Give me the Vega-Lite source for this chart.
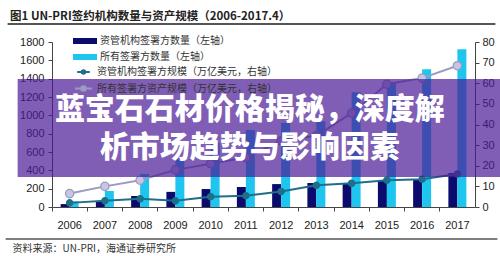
{
  "$schema": "https://vega.github.io/schema/vega-lite/v6.json",
  "width": 423,
  "height": 165,
  "autosize": {"type": "none"},
  "padding": {"left": 52, "top": 42, "right": 25, "bottom": 49},
  "background": "#ffffff",
  "config": {
    "view": {"stroke": null},
    "font": "Liberation Sans",
    "axis": {"labelFont": "Liberation Sans", "labelFontSize": 11, "labelColor": "#222", "domainColor": "#444", "tickColor": "#444", "grid": false}
  },
  "title": {
    "text": "图1 UN-PRI签约机构数量与资产规模（2006-2017.4）",
    "anchor": "start",
    "frame": "group",
    "dx": -42,
    "dy": 9,
    "offset": 10,
    "font": "Noto Sans CJK SC",
    "fontSize": 11.5,
    "fontWeight": "bold",
    "color": "#222"
  },
  "datasets": {
    "bars": [
      {"year": "2006", "series": "资管机构签署方数量（左轴）", "value": 32},
      {"year": "2007", "series": "资管机构签署方数量（左轴）", "value": 65},
      {"year": "2008", "series": "资管机构签署方数量（左轴）", "value": 120},
      {"year": "2009", "series": "资管机构签署方数量（左轴）", "value": 165},
      {"year": "2010", "series": "资管机构签署方数量（左轴）", "value": 196},
      {"year": "2011", "series": "资管机构签署方数量（左轴）", "value": 218},
      {"year": "2012", "series": "资管机构签署方数量（左轴）", "value": 250},
      {"year": "2013", "series": "资管机构签署方数量（左轴）", "value": 262},
      {"year": "2014", "series": "资管机构签署方数量（左轴）", "value": 262},
      {"year": "2015", "series": "资管机构签署方数量（左轴）", "value": 294},
      {"year": "2016", "series": "资管机构签署方数量（左轴）", "value": 305},
      {"year": "2017", "series": "资管机构签署方数量（左轴）", "value": 370},
      {"year": "2006", "series": "所有签署方数量（左轴）", "value": 63},
      {"year": "2007", "series": "所有签署方数量（左轴）", "value": 175},
      {"year": "2008", "series": "所有签署方数量（左轴）", "value": 360},
      {"year": "2009", "series": "所有签署方数量（左轴）", "value": 520},
      {"year": "2010", "series": "所有签署方数量（左轴）", "value": 700},
      {"year": "2011", "series": "所有签署方数量（左轴）", "value": 840},
      {"year": "2012", "series": "所有签署方数量（左轴）", "value": 918},
      {"year": "2013", "series": "所有签署方数量（左轴）", "value": 935},
      {"year": "2014", "series": "所有签署方数量（左轴）", "value": 1253},
      {"year": "2015", "series": "所有签署方数量（左轴）", "value": 1365},
      {"year": "2016", "series": "所有签署方数量（左轴）", "value": 1503},
      {"year": "2017", "series": "所有签署方数量（左轴）", "value": 1722}
    ],
    "lines": [
      {"year": "2006", "series": "资管机构签署方规模（万亿美元，右轴）", "value": 2},
      {"year": "2007", "series": "资管机构签署方规模（万亿美元，右轴）", "value": 3},
      {"year": "2008", "series": "资管机构签署方规模（万亿美元，右轴）", "value": 4},
      {"year": "2009", "series": "资管机构签署方规模（万亿美元，右轴）", "value": 3},
      {"year": "2010", "series": "资管机构签署方规模（万亿美元，右轴）", "value": 5},
      {"year": "2011", "series": "资管机构签署方规模（万亿美元，右轴）", "value": 5.5},
      {"year": "2012", "series": "资管机构签署方规模（万亿美元，右轴）", "value": 7.5},
      {"year": "2013", "series": "资管机构签署方规模（万亿美元，右轴）", "value": 10.5},
      {"year": "2014", "series": "资管机构签署方规模（万亿美元，右轴）", "value": 11.5},
      {"year": "2015", "series": "资管机构签署方规模（万亿美元，右轴）", "value": 13},
      {"year": "2016", "series": "资管机构签署方规模（万亿美元，右轴）", "value": 13.5},
      {"year": "2017", "series": "资管机构签署方规模（万亿美元，右轴）", "value": 16},
      {"year": "2006", "series": "所有签署方资产规模（万亿美元，右轴）", "value": 6.5},
      {"year": "2007", "series": "所有签署方资产规模（万亿美元，右轴）", "value": 10},
      {"year": "2008", "series": "所有签署方资产规模（万亿美元，右轴）", "value": 13},
      {"year": "2009", "series": "所有签署方资产规模（万亿美元，右轴）", "value": 18},
      {"year": "2010", "series": "所有签署方资产规模（万亿美元，右轴）", "value": 21},
      {"year": "2011", "series": "所有签署方资产规模（万亿美元，右轴）", "value": 24},
      {"year": "2012", "series": "所有签署方资产规模（万亿美元，右轴）", "value": 32},
      {"year": "2013", "series": "所有签署方资产规模（万亿美元，右轴）", "value": 34.5},
      {"year": "2014", "series": "所有签署方资产规模（万亿美元，右轴）", "value": 45.5},
      {"year": "2015", "series": "所有签署方资产规模（万亿美元，右轴）", "value": 59.5},
      {"year": "2016", "series": "所有签署方资产规模（万亿美元，右轴）", "value": 62.5},
      {"year": "2017", "series": "所有签署方资产规模（万亿美元，右轴）", "value": 68.5}
    ],
    "overlay": [
      {"line1": "蓝宝石石材价格揭秘，深度解", "line2": "析市场趋势与影响因素"}
    ]
  },
  "layer": [
    {
      "data": {"name": "bars"},
      "mark": {"type": "bar"},
      "encoding": {
        "x": {
          "field": "year", "type": "ordinal",
          "scale": {"domain": ["2006", "2007", "2008", "2009", "2010", "2011", "2012", "2013", "2014", "2015", "2016", "2017"], "paddingInner": 0, "paddingOuter": 0},
          "title": "资料来源：UN-PRI，海通证券研究所",
          "axis": {
            "labelAngle": 0, "bandPosition": 0, "tickSize": 4, "labelPadding": 8, "labelFontSize": 11,
            "titleAnchor": "start", "titleAlign": "left", "titleBaseline": "middle", "titleX": -40, "titleY": 41,
            "titleFont": "Noto Sans CJK SC", "titleFontSize": 10, "titleFontWeight": "normal", "titleColor": "#333"
          }
        },
        "xOffset": {
          "field": "series", "type": "nominal",
          "scale": {"domain": ["资管机构签署方数量（左轴）", "所有签署方数量（左轴）"], "paddingInner": 0, "paddingOuter": 0.96}
        },
        "y": {
          "field": "value", "type": "quantitative",
          "scale": {"domain": [0, 1800], "nice": false},
          "axis": {"orient": "left", "title": null, "format": "d", "values": [0, 200, 400, 600, 800, 1000, 1200, 1400, 1600, 1800], "tickSize": 4, "labelPadding": 4}
        },
        "color": {
          "field": "series", "type": "nominal",
          "scale": {
            "domain": ["资管机构签署方数量（左轴）", "所有签署方数量（左轴）"],
            "range": ["#0b0b6e", "#1ec6ef"]
          },
          "legend": {
            "orient": "none", "legendX": 26, "legendY": -8, "direction": "vertical", "title": null, "padding": 0,
            "symbolType": "M-2,-0.5H2V0.5H-2Z", "symbolSize": 144, "labelOffset": 8, "rowPadding": 4,
            "labelFont": "Noto Sans CJK SC", "labelFontSize": 10, "labelColor": "#333", "labelLimit": 300
          }
        }
      }
    },
    {
      "data": {"name": "lines"},
      "encoding": {
        "x": {"field": "year", "type": "ordinal", "title": "资料来源：UN-PRI，海通证券研究所"},
        "y": {
          "field": "value", "type": "quantitative",
          "scale": {"domain": [0, 80], "nice": false},
          "axis": {"orient": "right", "title": null, "values": [0, 10, 20, 30, 40, 50, 60, 70, 80], "tickSize": 4, "labelPadding": 3}
        }
      },
      "layer": [
        {
          "mark": {"type": "line", "strokeWidth": 2},
          "encoding": {
            "stroke": {
              "field": "series", "type": "nominal",
              "scale": {"domain": ["资管机构签署方规模（万亿美元，右轴）", "所有签署方资产规模（万亿美元，右轴）"], "range": ["#1f6f8b", "#9a9ac2"]},
              "legend": {
                "orient": "none", "legendX": 26, "legendY": 25, "direction": "vertical", "title": null, "padding": 0,
                "symbolType": "M-2,0H2M0.55,0A0.55,0.55,0,1,1,-0.55,0A0.55,0.55,0,1,1,0.55,0", "symbolSize": 144, "symbolStrokeWidth": 2,
                "labelOffset": 8, "rowPadding": 4,
                "labelFont": "Noto Sans CJK SC", "labelFontSize": 10, "labelColor": "#333", "labelLimit": 300
              }
            }
          }
        },
        {
          "mark": {"type": "point", "filled": true, "strokeWidth": 1.2, "opacity": 1},
          "encoding": {
            "fill": {
              "field": "series", "type": "nominal",
              "scale": {"domain": ["资管机构签署方规模（万亿美元，右轴）", "所有签署方资产规模（万亿美元，右轴）"], "range": ["#1f6f8b", "#c6c6e2"]},
              "legend": {
                "orient": "none", "legendX": 26, "legendY": 25, "direction": "vertical", "title": null, "padding": 0,
                "symbolType": "M-2,0H2M0.55,0A0.55,0.55,0,1,1,-0.55,0A0.55,0.55,0,1,1,0.55,0", "symbolSize": 144, "symbolStrokeWidth": 2,
                "labelOffset": 8, "rowPadding": 4,
                "labelFont": "Noto Sans CJK SC", "labelFontSize": 10, "labelColor": "#333", "labelLimit": 300
              }
            },
            "stroke": {"field": "series", "type": "nominal"},
            "size": {"field": "series", "type": "ordinal", "scale": {"domain": ["资管机构签署方规模（万亿美元，右轴）", "所有签署方资产规模（万亿美元，右轴）"], "range": [40, 70]}, "legend": null}
          }
        }
      ]
    },
    {
      "data": {"name": "overlay"},
      "mark": {"type": "rect", "color": "#4a1a96", "opacity": 0.7, "xOffset": -52, "x2Offset": 60},
      "encoding": {
        "x": {"datum": "2006", "type": "ordinal"},
        "x2": {"datum": "2017"},
        "y": {"datum": 1396, "type": "quantitative", "scale": {"domain": [0, 1800], "nice": false}, "axis": null},
        "y2": {"datum": 327}
      }
    },
    {
      "data": {"name": "overlay"},
      "mark": {"type": "text", "color": "#ffffff", "font": "Noto Sans CJK SC", "fontSize": 30, "fontWeight": 900, "align": "center", "baseline": "middle", "dx": 4},
      "encoding": {
        "x": {"datum": "2011", "type": "ordinal"},
        "y": {"datum": 1053, "type": "quantitative", "scale": {"domain": [0, 1800], "nice": false}, "axis": null},
        "text": {"field": "line1"}
      }
    },
    {
      "data": {"name": "overlay"},
      "mark": {"type": "text", "color": "#ffffff", "font": "Noto Sans CJK SC", "fontSize": 30, "fontWeight": 900, "align": "center", "baseline": "middle", "dx": 4},
      "encoding": {
        "x": {"datum": "2011", "type": "ordinal"},
        "y": {"datum": 644, "type": "quantitative", "scale": {"domain": [0, 1800], "nice": false}, "axis": null},
        "text": {"field": "line2"}
      }
    },
    {
      "data": {"name": "overlay"},
      "mark": {"type": "rule", "color": "#555", "strokeWidth": 2, "xOffset": -62, "x2Offset": 38, "yOffset": -18},
      "encoding": {
        "x": {"datum": "2006", "type": "ordinal"},
        "x2": {"datum": "2017"},
        "y": {"datum": 1800, "type": "quantitative", "scale": {"domain": [0, 1800], "nice": false}, "axis": null}
      }
    },
    {
      "data": {"name": "overlay"},
      "mark": {"type": "rule", "color": "#555", "strokeWidth": 1.5, "xOffset": -64, "x2Offset": 40, "yOffset": 32},
      "encoding": {
        "x": {"datum": "2006", "type": "ordinal"},
        "x2": {"datum": "2017"},
        "y": {"datum": 0, "type": "quantitative", "scale": {"domain": [0, 1800], "nice": false}, "axis": null}
      }
    }
  ],
  "resolve": {"scale": {"y": "independent"}}
}
